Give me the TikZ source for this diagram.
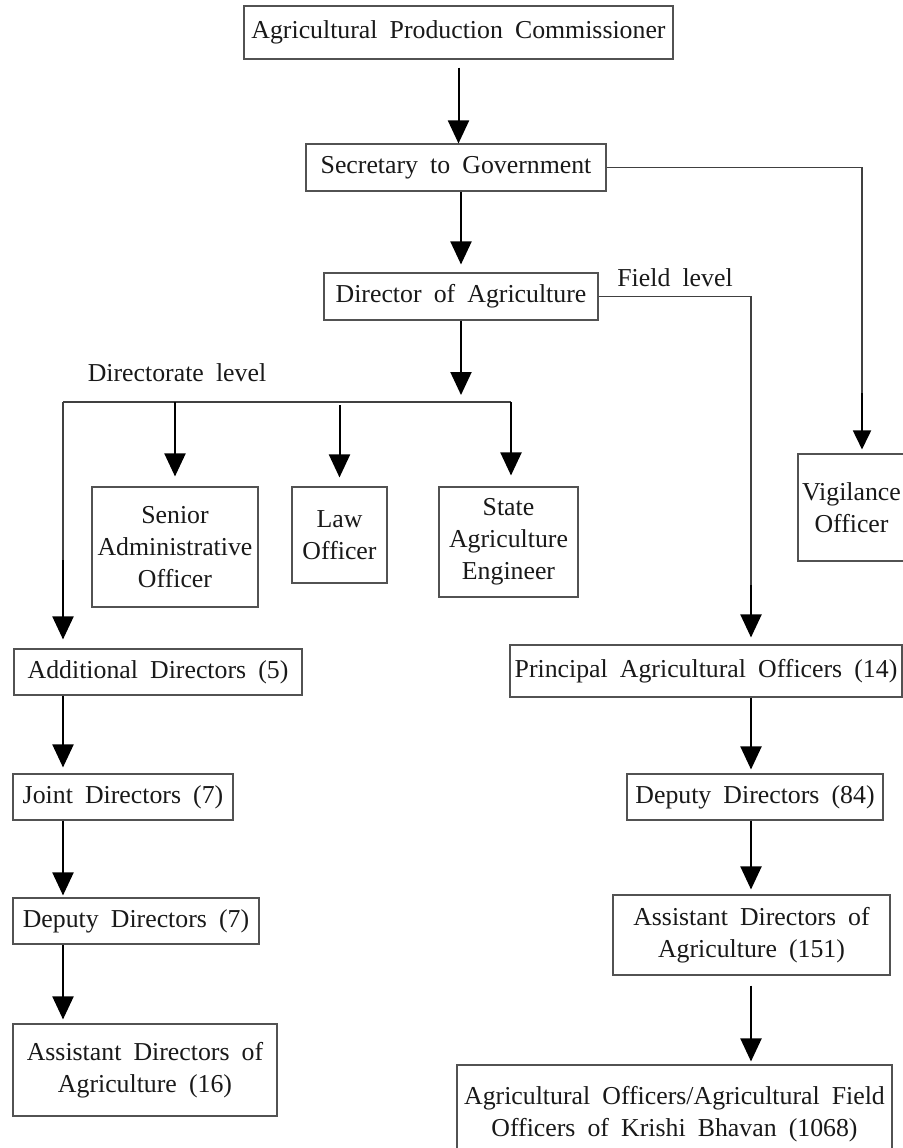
\documentclass[tikz,border=0pt]{standalone}
\usepackage{fontspec}
\setmainfont{Liberation Serif}
\usetikzlibrary{arrows.meta,calc}
\newcommand\chartfont{\fontsize{25.8}{32}\selectfont\spaceskip 0.47em plus 0.1em minus 0.05em\relax}
\begin{document}
\begin{tikzpicture}[x=1pt,y=-1pt,
  txt/.style={font=\chartfont, text=black!90},
  box/.style={txt, draw=black!68, line width=1.1pt, inner sep=0pt, align=center, rectangle},
  conn/.style={draw=black!75, line width=1.1pt},
  arr/.style={draw=black, line width=2pt, -{Triangle[width=21pt,length=23pt]}},
  arrsmall/.style={draw=black, line width=1.8pt, -{Triangle[width=18pt,length=19pt]}}
]
\useasboundingbox (0,0) rectangle (902,1148);
\fill[white] (0,0) rectangle (902,1148);

% boxes
\node[box, minimum width=429pt, minimum height=53pt] (apc) at (458.5,32.5) {Agricultural Production Commissioner};
\node[box, minimum width=300pt, minimum height=47pt] (sec) at (456,167.5) {Secretary to Government};
\node[box, minimum width=274pt, minimum height=47pt] (dir) at (461,296.5) {Director of Agriculture};
\node[box, minimum width=166pt, minimum height=120pt] (senior) at (175,547) {Senior\\Administrative\\Officer};
\node[box, minimum width=95pt, minimum height=96pt] (law) at (339.5,535) {Law\\Officer};
\node[box, minimum width=139pt, minimum height=110pt] (state) at (508.5,542) {State\\Agriculture\\Engineer};
\node[box, minimum width=107pt, minimum height=107pt] (vig) at (851.5,507.5) {Vigilance\\Officer};
\node[box, minimum width=288pt, minimum height=46pt] (add) at (158,672) {Additional Directors (5)};
\node[box, minimum width=220pt, minimum height=46pt] (joint) at (123,797) {Joint Directors (7)};
\node[box, minimum width=246pt, minimum height=46pt] (dep7) at (136,921) {Deputy Directors (7)};
\node[box, minimum width=264pt, minimum height=92pt] (asst16) at (145,1070) {Assistant Directors of\\Agriculture (16)};
\node[box, minimum width=392pt, minimum height=52pt] (princ) at (706,671) {Principal Agricultural Officers (14)};
\node[box, minimum width=256pt, minimum height=46pt] (dep84) at (755,797) {Deputy Directors (84)};
\node[box, minimum width=277pt, minimum height=80pt] (asst151) at (751.5,935) {Assistant Directors of\\Agriculture (151)};
\node[box, minimum width=435pt, minimum height=98pt] (agri) at (674.5,1114) {Agricultural Officers/Agricultural Field\\Officers of Krishi Bhavan (1068)};

% labels
\node[txt] (dlev) at (177,373) {Directorate level};
\node[txt] (flev) at (675,278) {Field level};

% helper coordinates
\coordinate (busL) at (63,402);
\coordinate (busR) at (511,402);
\coordinate (addk) at (63,560);
\coordinate (vigk) at (862,393);
\coordinate (fieldk) at (751,585);

% main chain
\draw[arr, shorten <=8pt] (apc.south) -- (apc.south |- sec.north);
\draw[arr, shorten >=8pt] (sec.south -| dir.north) -- (dir.north);
\draw[arr, shorten >=7pt] (dir.south) -- (dir.south |- busL);

% directorate bus
\draw[conn] (busL) -- (busR);
\draw[arr, shorten >=10pt] (senior.north |- busL) -- (senior.north);
\draw[arr, shorten <=3pt, shorten >=9pt] (law.north |- busL) -- (law.north);
\draw[arr, shorten >=11pt] (busR) -- (busR |- state.north);
\draw[conn] (busL) -- (addk);
\draw[arr, shorten >=9pt] (addk) -- (addk |- add.north);

% left column
\draw[arr, shorten >=6pt] (busL |- add.south) -- (busL |- joint.north);
\draw[arr, shorten >=2pt] (busL |- joint.south) -- (busL |- dep7.north);
\draw[arr, shorten >=4pt] (busL |- dep7.south) -- (busL |- asst16.north);

% vigilance
\draw[conn] (sec.east) -- (sec.east -| vigk) -- (vigk);
\draw[arrsmall, shorten >=4pt] (vigk) -- (vigk |- vig.north);

% field level
\draw[conn] (dir.east) -- (dir.east -| fieldk) -- (fieldk);
\draw[arr, shorten >=7pt] (fieldk) -- (fieldk |- princ.north);
\draw[arr, shorten >=4pt] (fieldk |- princ.south) -- (fieldk |- dep84.north);
\draw[arr, shorten >=5pt] (fieldk |- dep84.south) -- (fieldk |- asst151.north);
\draw[arr, shorten <=10pt, shorten >=3pt] (fieldk |- asst151.south) -- (fieldk |- agri.north);
\end{tikzpicture}
\end{document}
